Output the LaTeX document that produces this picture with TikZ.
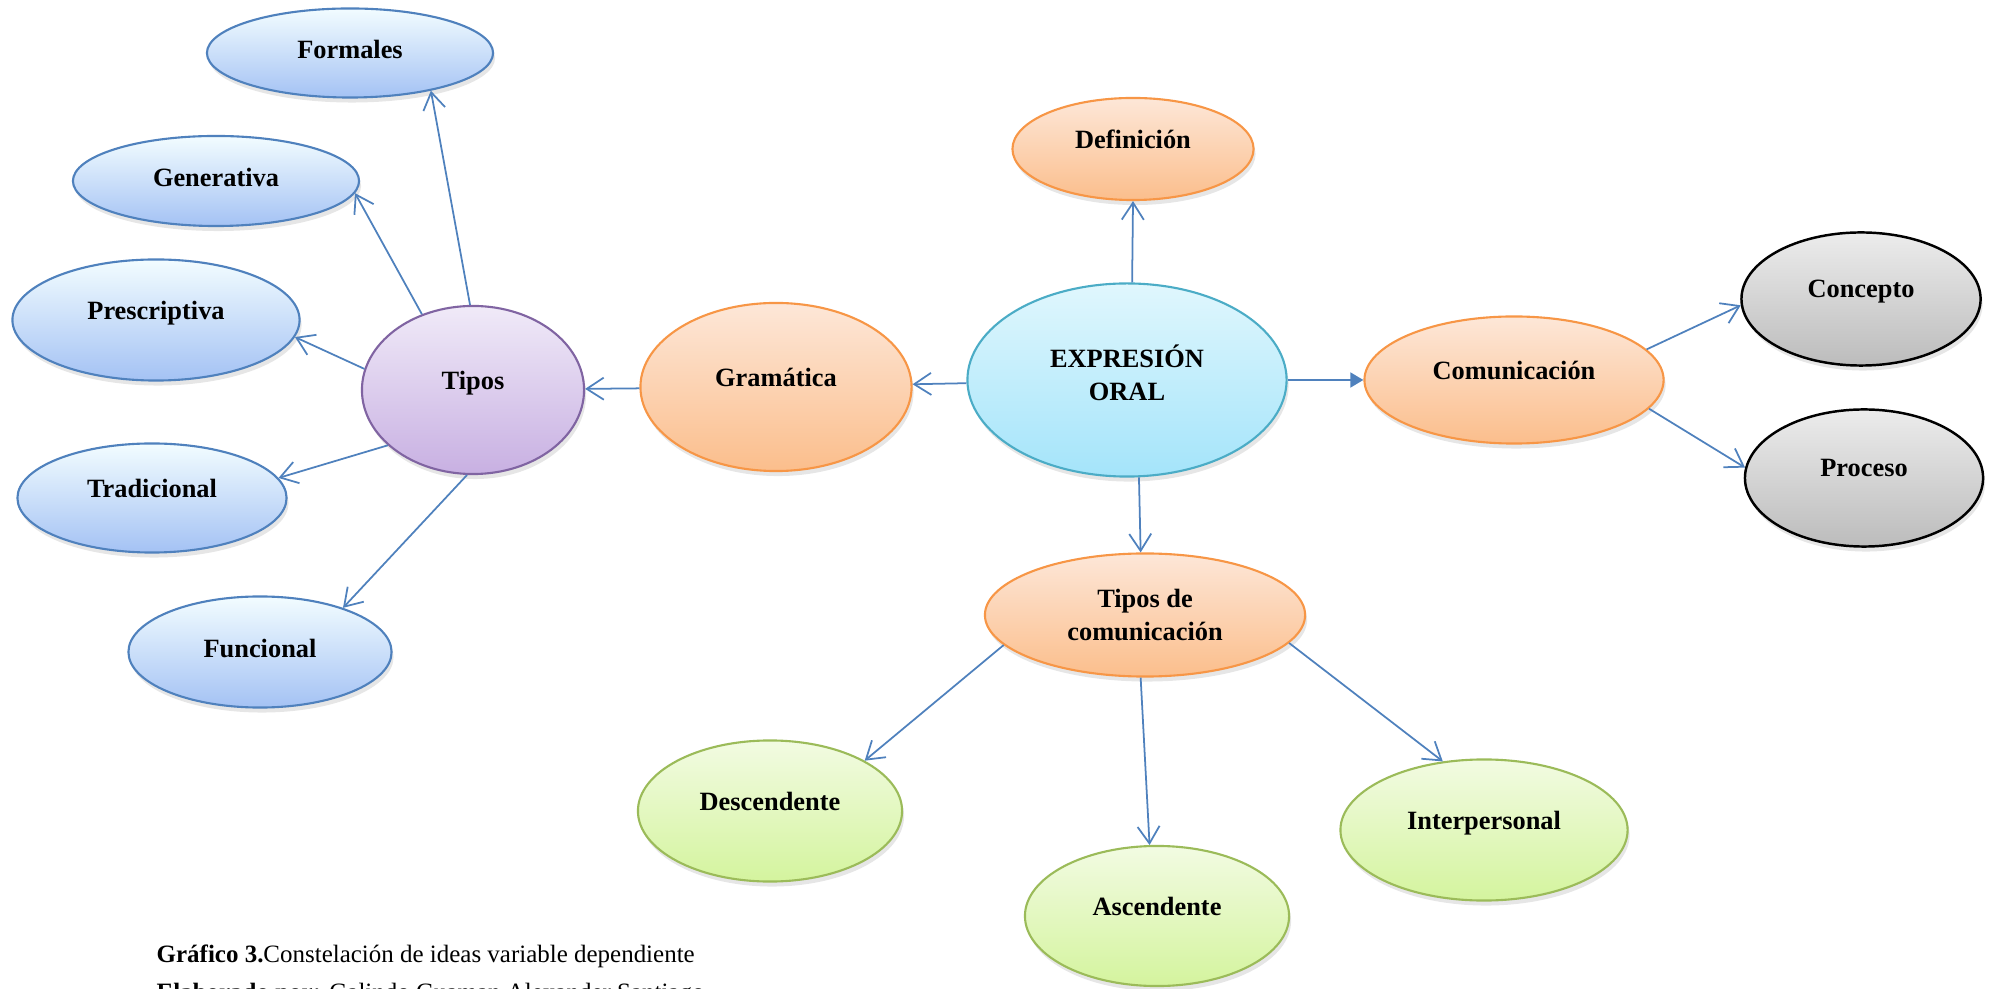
\documentclass[tikz,border=0pt]{standalone}
\usepackage{fontspec}
\setmainfont{Liberation Serif}
\usetikzlibrary{shapes.geometric,arrows.meta,shadows}

\definecolor{linea}{HTML}{4F81BD}
\definecolor{bordelila}{HTML}{8064A2}
\definecolor{bordenaranja}{HTML}{F79646}
\definecolor{bordecian}{HTML}{4BACC6}
\definecolor{bordeverde}{HTML}{9BBB59}

\newcommand{\txtup}[2][2mm]{\raisebox{#1}{#2}}

\tikzset{
  burbuja/.style = {ellipse, inner sep = 0pt, line width = 0.6pt,
    font = \bfseries\fontsize{7.5pt}{9.4pt}\selectfont,
    drop shadow = {shadow xshift = 0.2mm, shadow yshift = -0.5mm, opacity = 0.2}},
  blu/.style = {burbuja, draw = linea, top color = blue!20!cyan!5!white, bottom color = {rgb,255:red,164;green,194;blue,244}},
  lila/.style = {burbuja, draw = bordelila, top color = {rgb,255:red,240;green,234;blue,248}, bottom color = {rgb,255:red,200;green,176;blue,226}},
  naranja/.style = {burbuja, draw = bordenaranja, top color = {rgb,255:red,253;green,231;blue,216}, bottom color = {rgb,255:red,251;green,190;blue,140}},
  cian/.style = {burbuja, draw = bordecian, top color = {rgb,255:red,224;green,247;blue,253}, bottom color = {rgb,255:red,164;green,228;blue,250}},
  gris/.style = {burbuja, draw = black, line width = 0.7pt, top color = {rgb,255:red,236;green,236;blue,236}, bottom color = {rgb,255:red,188;green,188;blue,188}},
  verde/.style = {burbuja, draw = bordeverde, top color = {rgb,255:red,242;green,251;blue,226}, bottom color = {rgb,255:red,212;green,244;blue,158}},
  flecha/.style = {draw = linea, line width = 0.5pt, -{Straight Barb[length = 1.7mm, width = 2.2mm]}},
  flechallena/.style = {draw = linea, line width = 0.5pt, -{Triangle[length = 1.3mm, width = 1.5mm]}}
}

\begin{document}
\begin{tikzpicture}[x = 0.01cm, y = -0.01cm]
  \useasboundingbox (0, 0) rectangle (1992, 989);

  % rama izquierda
  \node[blu, minimum width = 2.86cm, minimum height = 0.89cm] (formales) at (350, 53) {\txtup[0.8mm]{Formales}};
  \node[blu, minimum width = 2.86cm, minimum height = 0.90cm] (generativa) at (216, 181) {\txtup[0.8mm]{Generativa}};
  \node[blu, minimum width = 2.87cm, minimum height = 1.21cm] (prescriptiva) at (156, 320) {\txtup{Prescriptiva}};
  \node[blu, minimum width = 2.69cm, minimum height = 1.09cm] (tradicional) at (152, 498) {\txtup{Tradicional}};
  \node[blu, minimum width = 2.63cm, minimum height = 1.11cm] (funcional) at (260, 652) {\txtup[0.8mm]{Funcional}};
  \node[lila, minimum width = 2.22cm, minimum height = 1.68cm] (tipos) at (473, 390) {\txtup{Tipos}};
  \node[naranja, minimum width = 2.71cm, minimum height = 1.68cm] (gramatica) at (776, 387) {\txtup{Gramática}};

  % centro
  \node[cian, minimum width = 3.19cm, minimum height = 1.93cm] (expr) at (1127, 380)
    {\txtup[3.2mm]{\begin{tabular}{@{}c@{}}EXPRESIÓN\\ORAL\end{tabular}}};
  \node[naranja, minimum width = 2.41cm, minimum height = 1.02cm] (definicion) at (1133, 149) {\txtup{Definición}};

  % rama derecha
  \node[naranja, minimum width = 2.99cm, minimum height = 1.27cm] (comunicacion) at (1514, 380) {\txtup{Comunicación}};
  \node[gris, minimum width = 2.39cm, minimum height = 1.33cm] (concepto) at (1861, 299) {\txtup{Concepto}};
  \node[gris, minimum width = 2.38cm, minimum height = 1.37cm] (proceso) at (1864, 478) {\txtup{Proceso}};

  % rama inferior
  \node[naranja, minimum width = 3.20cm, minimum height = 1.23cm, align = center] (tdc) at (1145, 615)
    {Tipos de\\comunicación};
  \node[verde, minimum width = 2.64cm, minimum height = 1.41cm] (descendente) at (770, 811) {\txtup{Descendente}};
  \node[verde, minimum width = 2.64cm, minimum height = 1.40cm] (ascendente) at (1157, 916) {\txtup{Ascendente}};
  \node[verde, minimum width = 2.87cm, minimum height = 1.41cm] (interpersonal) at (1484, 830) {\txtup{Interpersonal}};

  \draw[flecha] (tipos.92) -- (formales.-25);
  \draw[flecha] (tipos.124) -- (generativa.-5);
  \draw[flecha] (tipos.169) -- (prescriptiva.-7);
  \draw[flecha] (tipos.213) -- (tradicional.9);
  \draw[flecha] (tipos.266) -- (funcional.28);
  \draw[flecha] (gramatica) -- (tipos);
  \draw[flecha] (expr) -- (gramatica);
  \draw[flecha] (expr.87) -- (definicion.south);
  \draw[flechallena] (expr) -- (comunicacion);
  \draw[flecha] (expr.-83) -- (tdc.94);
  \draw[flecha] (comunicacion.13) -- (concepto.183);
  \draw[flecha] (comunicacion.-12) -- (proceso.175);
  \draw[flecha] (tdc.192) -- (descendente.28);
  \draw[flecha] (tdc.266) -- (ascendente.96);
  \draw[flecha] (tdc.-11) -- (interpersonal.121);

  % pie
  \node[anchor = base west, inner sep = 0pt, font = \fontsize{7.1pt}{8.5pt}\selectfont] (grafico) at (156, 962)
    {\textbf{Gráfico 3.}Constelación de ideas variable dependiente};
  \node[anchor = base west, inner sep = 0pt, font = \fontsize{7.1pt}{8.5pt}\selectfont] (elaborado) at (156, 1000)
    {\textbf{Elaborado por:} Galindo Guaman Alexander Santiago};
\end{tikzpicture}
\end{document}
